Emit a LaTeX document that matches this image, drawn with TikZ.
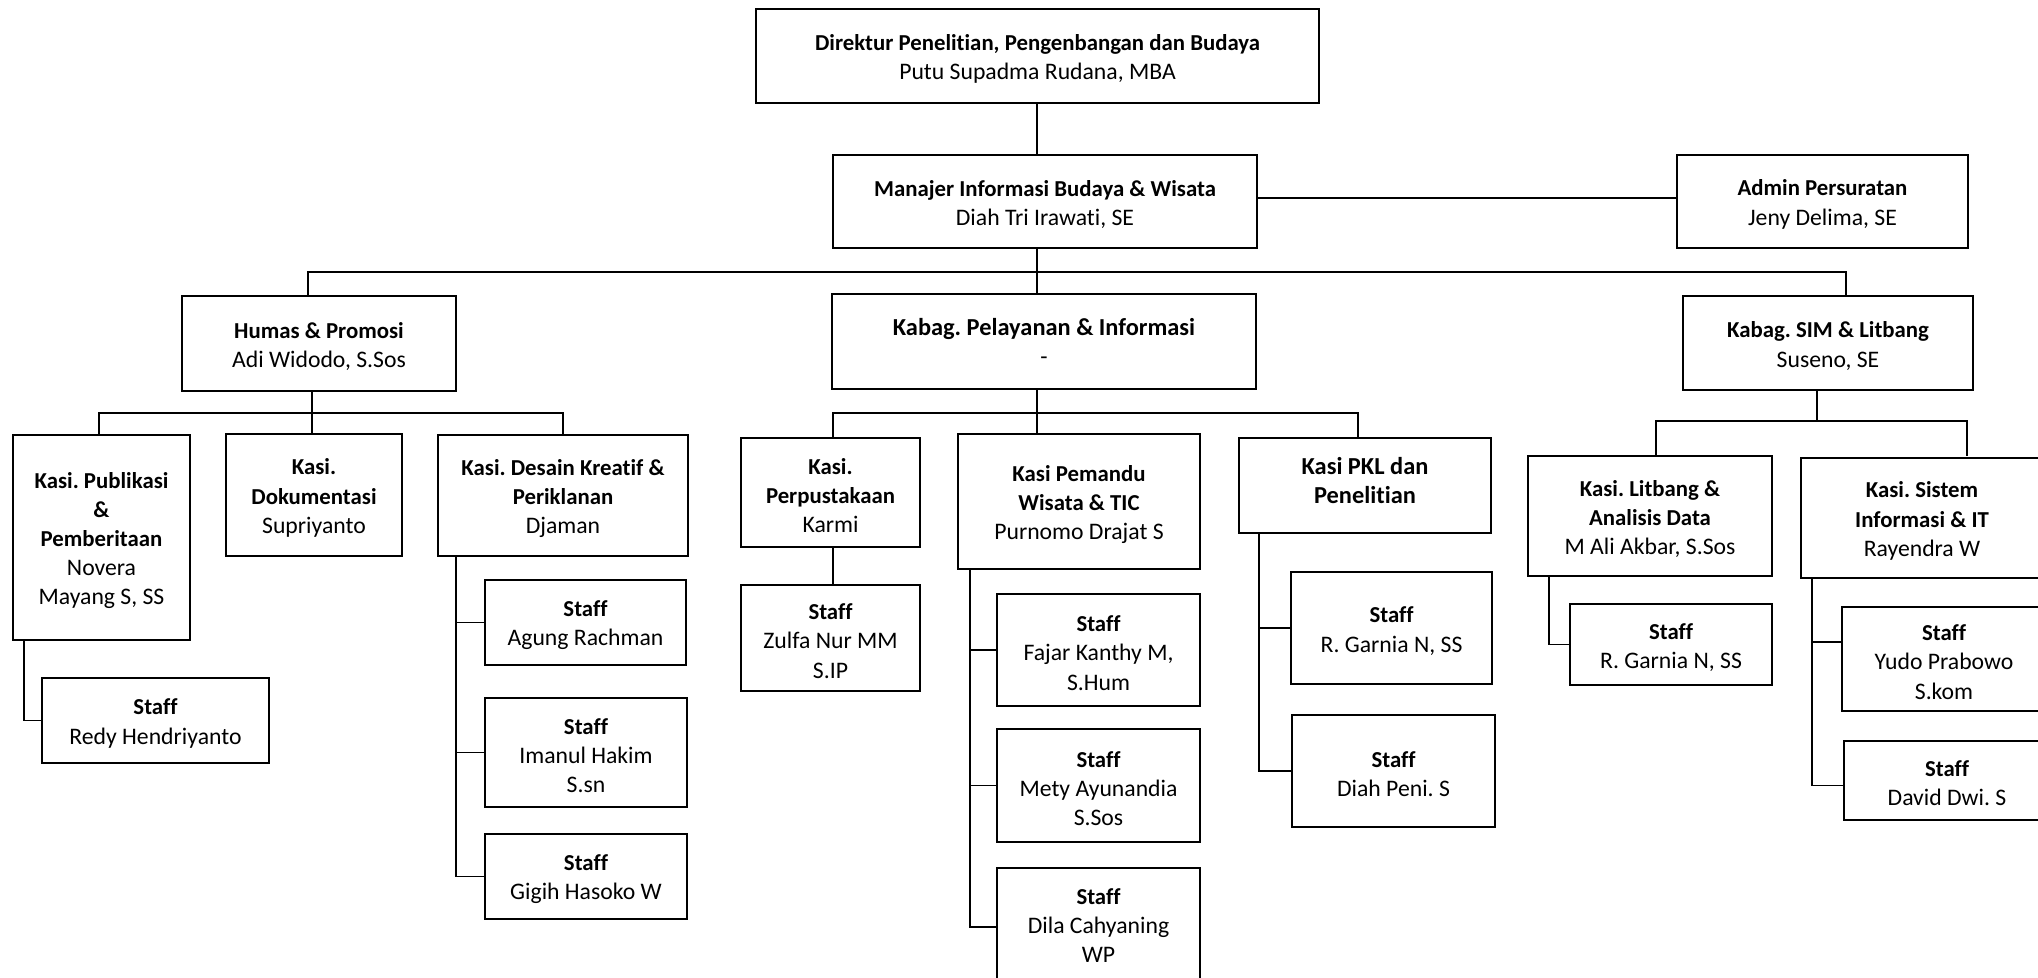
\documentclass[tikz,border=0pt]{standalone}
\usepackage{fontspec}
\setmainfont{Carlito}[Ligatures=NoCommon]
\tikzset{
  box/.style={draw=black, line width=1.3pt, fill=white, inner sep=0pt},
  txt/.style={inner sep=0pt, align=center, font=\fontsize{11.85}{14.6}\selectfont},
  conn/.style={draw=black, line width=0.65pt}
}
\newcommand\bx[7][-1.5pt]{\node[box, minimum width={(#5-#3)*0.5pt}, minimum height={(#6-#4)*0.5pt}] (#2) at ({(#3+#5)/2},{(#4+#6)/2}) {};
  \node[txt] at ([yshift=#1]#2.center) {#7};}
\newcommand\tb[1]{{\fontsize{11.4}{14.6}\selectfont\bfseries #1}}
\newcommand\tbb[1]{{\fontsize{12.2}{15.6}\selectfont\bfseries #1}}
\begin{document}
\frenchspacing
\begin{tikzpicture}[x=0.5pt,y=-0.5pt]
\useasboundingbox (0,0) rectangle (2038,978);
\clip (0,0) rectangle (2038,978);
\fill[white] (0,0) rectangle (2038,978);
% coordinates for buses
\coordinate (cx) at (1037,0);
\coordinate (bus1L) at (308,272);
\coordinate (bus1R) at (1846,272);
\coordinate (hb) at (312,413);
\coordinate (kb) at (1037,413);
\coordinate (sb) at (1817,421);
\coordinate (sbR) at (1967,421);
\coordinate (pubx) at (24,640);
\coordinate (desx) at (456,556);
\coordinate (pemx) at (970,569);
\coordinate (pklx) at (1259,533);
\coordinate (litx) at (1549,576);
\coordinate (sisx) at (1812,578);

% connectors first (boxes drawn over them)
\draw[conn] (cx |- 0,103) -- (cx |- 0,294);
\draw[conn] (1257,198) -- (1677,198);
\draw[conn] (bus1L |- 0,296) -- (bus1L) -- (bus1R) -- (bus1R |- 0,296);
\draw[conn] (99,435) -- (99,413) -- (563,413) -- (563,435);
\draw[conn] (hb |- 0,391) -- (hb |- 0,434);
\draw[conn] (833,438) -- (833,413) -- (1358,413) -- (1358,438);
\draw[conn] (kb |- 0,389) -- (kb |- 0,434);
\draw[conn] (sb |- 0,390) -- (sb) -- (sbR) -- (sbR |- 0,456);
\draw[conn] (1656,456) -- (1656,421) -- (sb);

% boxes
\bx{D}{756}{9}{1319}{103}{\tb{Direktur Penelitian, Pengenbangan dan Budaya}\\Putu Supadma Rudana, MBA}
\bx{M}{833}{155}{1257}{248}{\tb{Manajer Informasi Budaya \& Wisata}\\Diah Tri Irawati, SE}
\bx{A}{1677}{155}{1968}{248}{\tb{Admin Persuratan}\\Jeny Delima, SE}
\bx{H}{182}{296}{456}{391}{\tb{Humas \& Promosi}\\Adi Widodo, S.Sos}
\bx[0pt]{KP}{832}{294}{1256}{389}{\tbb{Kabag. Pelayanan \& Informasi}\\-}
\bx{KS}{1683}{296}{1973}{390}{\tb{Kabag. SIM \& Litbang}\\Suseno, SE}

\bx{Pub}{13}{435}{190}{640}{\tb{Kasi. Publikasi}\\\tb{\&}\\\tb{Pemberitaan}\\Novera\\Mayang S, SS}
\bx{Dok}{226}{434}{402}{556}{\tb{Kasi.}\\\tb{Dokumentasi}\\Supriyanto}
\bx{Des}{438}{435}{688}{556}{\tb{Kasi. Desain Kreatif \&}\\\tb{Periklanan}\\Djaman}
\bx{Redy}{42}{678}{269}{763}{\tb{Staff}\\Redy Hendriyanto}
\bx{Agung}{485}{580}{686}{665}{\tb{Staff}\\Agung Rachman}
\bx{Imanul}{485}{698}{687}{807}{\tb{Staff}\\Imanul Hakim\\S.sn}
\bx{Gigih}{485}{834}{687}{919}{\tb{Staff}\\Gigih Hasoko W}

\bx{Perp}{741}{438}{920}{547}{\tb{Kasi.}\\\tb{Perpustakaan}\\Karmi}
\bx{Zulfa}{741}{585}{920}{691}{\tb{Staff}\\Zulfa Nur MM\\S.IP}
\bx{Pem}{958}{434}{1200}{569}{\tb{Kasi Pemandu}\\\tb{Wisata \& TIC}\\Purnomo Drajat S}
\bx{Fajar}{997}{594}{1200}{706}{\tb{Staff}\\Fajar Kanthy M,\\S.Hum}
\bx{Mety}{997}{729}{1200}{842}{\tb{Staff}\\Mety Ayunandia\\S.Sos}
\bx[0.8pt]{Dila}{997}{868}{1200}{986}{\tb{Staff}\\Dila Cahyaning\\WP}
\bx[2.6pt]{PKL}{1239}{438}{1491}{533}{\tbb{Kasi PKL dan}\\\tbb{Penelitian}}
\bx{Garnia}{1291}{572}{1492}{684}{\tb{Staff}\\R. Garnia N, SS}
\bx{Diah}{1292}{715}{1495}{827}{\tb{Staff}\\Diah Peni. S}

\bx{Lit}{1528}{456}{1772}{576}{\tb{Kasi. Litbang \&}\\\tb{Analisis Data}\\M Ali Akbar, S.Sos}
\bx{Sis}{1801}{458}{2043}{578}{\tb{Kasi. Sistem}\\\tb{Informasi \& IT}\\Rayendra W}
\bx{GarniaB}{1570}{604}{1772}{685}{\tb{Staff}\\R. Garnia N, SS}
\bx{Yudo}{1842}{607}{2046}{711}{\tb{Staff}\\Yudo Prabowo\\S.kom}
\bx{David}{1844}{741}{2050}{820}{\tb{Staff}\\David Dwi. S}

% child connectors
\draw[conn] (Pub.south -| pubx) |- (Redy.west);
\draw[conn] (Des.south -| desx) |- (Gigih.west);
\draw[conn] (desx |- Agung.west) -- (Agung.west);
\draw[conn] (desx |- Imanul.west) -- (Imanul.west);
\draw[conn] (Perp.south -| 833,0) -- (Zulfa.north -| 833,0);
\draw[conn] (Pem.south -| pemx) |- (Dila.west);
\draw[conn] (pemx |- Fajar.west) -- (Fajar.west);
\draw[conn] (pemx |- Mety.west) -- (Mety.west);
\draw[conn] (PKL.south -| pklx) |- (Diah.west);
\draw[conn] (pklx |- Garnia.west) -- (Garnia.west);
\draw[conn] (Lit.south -| litx) |- (GarniaB.west);
\draw[conn] (Sis.south -| sisx) |- ([yshift=-2.5pt]David.west);
\draw[conn] (sisx |- 0,642) -- (Yudo.west |- 0,642);
\end{tikzpicture}
\end{document}
